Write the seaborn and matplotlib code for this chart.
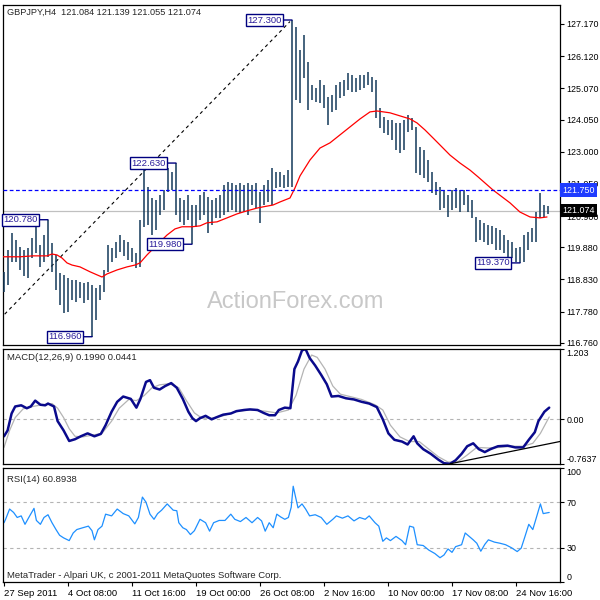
import matplotlib
matplotlib.use("Agg")
import matplotlib.pyplot as plt
import matplotlib.transforms as mtransforms
import seaborn as sns

# GBPJPY H4 (one slot = two H4 bars)
bar_high = [119.08, 119.80, 120.35, 120.12, 119.89, 119.80, 119.86, 120.19, 120.71, 119.96,
            120.28, 120.78, 120.02, 119.63, 119.04, 118.98, 118.88, 118.82, 118.82, 118.75,
            118.72, 118.75, 118.65, 118.55, 118.65, 119.14, 119.96, 119.86, 120.06, 120.28,
            120.12, 120.06, 119.86, 119.70, 120.77, 122.40, 121.85, 121.49, 121.43, 121.59,
            121.75, 122.47, 122.34, 122.63, 121.49, 121.43, 121.59, 121.26, 121.26, 121.59,
            121.69, 121.52, 121.43, 121.49, 121.59, 121.92, 122.01, 121.98, 121.92, 121.98,
            121.92, 121.98, 121.92, 121.98, 121.69, 121.92, 122.08, 122.47, 122.34, 122.34,
            122.24, 122.40, 127.30, 127.07, 126.32, 126.81, 125.93, 125.18, 125.08, 125.34,
            125.18, 124.79, 124.85, 125.18, 125.28, 125.34, 125.57, 125.51, 125.41, 125.51,
            125.51, 125.60, 125.44, 125.34, 124.43, 124.13, 124.04, 124.04, 123.94, 123.94,
            124.04, 124.20, 124.10, 123.81, 123.16, 123.06, 122.73, 122.34, 122.01, 121.85,
            121.75, 121.59, 121.75, 121.82, 121.75, 121.75, 121.59, 121.43, 120.87, 120.77,
            120.68, 120.61, 120.58, 120.51, 120.45, 120.28, 120.12, 120.06, 119.86, 119.89,
            120.28, 120.38, 120.51, 121.03, 121.65, 121.26, 121.23]
bar_low = [118.42, 118.65, 119.40, 119.40, 119.14, 118.95, 118.88, 119.53, 119.70, 119.24,
           119.40, 119.57, 119.08, 118.49, 118.00, 117.74, 117.77, 118.16, 118.10, 118.23,
           118.06, 118.16, 116.96, 117.51, 118.16, 118.42, 119.08, 119.40, 119.53, 119.73,
           119.60, 119.47, 119.40, 119.21, 119.24, 120.55, 120.61, 120.28, 120.45, 120.94,
           121.10, 121.69, 121.75, 120.94, 120.71, 120.61, 120.77, 119.98, 120.55, 120.77,
           120.94, 120.35, 120.61, 120.84, 120.84, 120.94, 121.03, 121.10, 121.03, 121.00,
           121.03, 120.94, 121.26, 121.16, 120.68, 121.26, 121.36, 121.26, 121.82, 121.85,
           121.82, 121.85, 121.85, 124.69, 124.59, 125.41, 124.36, 124.69, 124.62, 124.59,
           124.43, 123.87, 124.30, 124.36, 124.75, 124.82, 125.02, 124.95, 124.95, 125.02,
           125.08, 125.18, 124.95, 124.10, 123.78, 123.61, 123.55, 123.38, 123.06, 122.96,
           123.06, 123.65, 123.71, 122.31, 122.24, 122.14, 122.01, 121.65, 121.59, 121.10,
           121.16, 120.87, 121.10, 121.16, 121.03, 121.26, 121.03, 120.84, 120.06, 120.12,
           120.06, 119.96, 119.99, 119.80, 119.80, 119.70, 119.57, 119.53, 119.40, 119.37,
           119.40, 119.80, 120.06, 120.06, 120.84, 120.87, 120.97]

ma_bar = [-0.25, 4, 7.25, 10.75, 12, 13.25, 14.5, 15.75, 17, 19, 21.5, 23.25, 24.5, 25.75,
          28.25, 30.75, 32.75, 34, 35.75, 38.25, 40.75, 42.75, 44.5, 47, 49, 50.75, 53.25,
          55.75, 58.25, 60.75, 63.25, 64.75, 67.25, 69, 71.5, 72.75, 74, 76.5, 79, 81.5, 84,
          86.5, 89, 91.5, 93.25, 96.5, 99, 101.5, 103.25, 105.25, 107.25, 109, 111.5, 114,
          116.5, 118.5, 122.25, 126.5, 129, 131.5, 134, 135.75]
ma_val = [119.57, 119.57, 119.60, 119.60, 119.66, 119.63, 119.53, 119.37, 119.30, 119.24,
          119.08, 118.98, 118.91, 119.01, 119.14, 119.24, 119.30, 119.37, 119.63, 119.96,
          120.28, 120.48, 120.55, 120.55, 120.58, 120.68, 120.71, 120.84, 120.97, 121.07,
          121.16, 121.20, 121.26, 121.36, 121.49, 121.82, 122.21, 122.73, 123.12, 123.29,
          123.55, 123.81, 124.07, 124.30, 124.33, 124.27, 124.17, 124.07, 123.94, 123.71,
          123.45, 123.22, 122.89, 122.63, 122.40, 122.18, 121.75, 121.33, 121.03, 120.87,
          120.84, 120.87]

trend_bar = [-1, 71.5]
trend_price = [117.54, 127.25]

peak_bar = [11, 22, 43, 47, 72, 129]
peak_price = [120.78, 116.96, 122.63, 119.98, 127.30, 119.37]

price_ticks = [127.17, 126.12, 125.07, 124.05, 123.00, 121.95, 120.90, 119.88, 118.83, 117.78, 116.76]

macd_bar = [0, 0.9, 1.9, 2.8, 4.3, 5.7, 6.7, 7.8, 9.1, 10.3, 11, 12.5, 13.4, 14.9, 16.3, 17.75,
            19.2, 20.9, 22.6, 24.2, 25.4, 26.9, 28.3, 29.8, 31.7, 33.1, 34.1, 35.5, 36.5, 37.5,
            38.9, 40.3, 41.8, 43.2, 44.7, 46.1, 47.1, 48, 49, 50.4, 51.9, 53.3, 54.8, 56.7,
            58.1, 60, 61.5, 63.4, 64.9, 66.3, 67.75, 68.7, 70.2, 71.6, 72.6, 73.5, 74.5, 75.4,
            76.4, 77.8, 79.3, 80.7, 81.9, 83.6, 85.5, 87.5, 89.4, 91.3, 93.2, 94.7, 96.1, 97.6,
            99.5, 100.9, 102.4, 103.3, 104.8, 106.7, 108.6, 110, 111.5, 112.9, 114.4, 115.8,
            117.3, 118.7, 120.2, 121.6, 123.5, 125.9, 127.8, 129.8, 131.2, 132.7, 133.6, 135.1,
            136.3]
macd_val = [-0.29, -0.19, 0.10, 0.22, 0.24, 0.19, 0.22, 0.32, 0.25, 0.24, 0.27, 0.22, -0.03,
            -0.19, -0.37, -0.34, -0.29, -0.24, -0.29, -0.25, -0.10, 0.13, 0.30, 0.39, 0.35,
            0.20, 0.35, 0.64, 0.67, 0.54, 0.51, 0.57, 0.62, 0.54, 0.35, 0.13, 0.02, -0.03,
            0.02, 0.06, 0.00, 0.04, 0.08, 0.10, 0.14, 0.16, 0.17, 0.16, 0.11, 0.07, 0.07,
            0.16, 0.20, 0.19, 0.86, 0.99, 1.18, 1.20, 1.05, 0.92, 0.76, 0.60, 0.39, 0.40,
            0.36, 0.34, 0.30, 0.27, 0.21, 0.00, -0.24, -0.35, -0.38, -0.43, -0.29, -0.41,
            -0.51, -0.59, -0.69, -0.75, -0.76, -0.70, -0.59, -0.46, -0.41, -0.51, -0.56,
            -0.51, -0.46, -0.45, -0.48, -0.48, -0.35, -0.22, -0.03, 0.13, 0.20]

sig_bar = [0, 1.4, 2.8, 4.8, 7.2, 9.6, 12, 13.4, 14.9, 16.3, 17.75, 19.7, 22.1, 24.5, 26.9,
           28.8, 31.2, 33.1, 35.1, 37, 38.9, 41.3, 43.7, 45.6, 47.6, 49.5, 51.9, 54.8, 57.7,
           61.5, 65.3, 68.2, 71.1, 73, 75, 76.9, 78.3, 80.25, 82.2, 84.1, 86.5, 89.4, 92.75,
           94.7, 96.6, 99, 101.4, 103.8, 106.2, 108.6, 111, 113.4, 115.8, 118.2, 121.1, 124,
           126.9, 129.8, 132.2, 134.1, 136.3]
sig_val = [-0.48, -0.19, 0.03, 0.18, 0.22, 0.25, 0.27, 0.19, 0.03, -0.16, -0.29, -0.30,
           -0.27, -0.24, -0.03, 0.19, 0.34, 0.32, 0.41, 0.54, 0.59, 0.61, 0.54, 0.32, 0.11,
           0.02, 0.02, 0.06, 0.13, 0.16, 0.14, 0.11, 0.16, 0.41, 0.86, 1.10, 1.06, 0.86,
           0.57, 0.43, 0.39, 0.34, 0.25, 0.16, -0.10, -0.30, -0.38, -0.38, -0.51, -0.64,
           -0.73, -0.73, -0.61, -0.48, -0.49, -0.48, -0.46, -0.46, -0.41, -0.24, 0.04]

macd_trend_bar = [111.5, 140]
macd_trend_val = [-0.76, -0.365]

rsi_bar = [0, 0.4, 1.4, 2.4, 3.3, 4.3, 5.25, 6.2, 7.5, 8.1, 9.1, 10, 11, 12, 13, 13.9, 14.9,
           16.3, 17.3, 18.2, 19.7, 21.1, 22, 22.6, 23.5, 24.5, 25.4, 26.9, 28.3, 29.8, 31.2,
           32.7, 33.6, 34.6, 35.5, 36.5, 37.5, 38.4, 39.4, 40.8, 42.3, 43.2, 43.7, 44.7, 45.6,
           46.6, 47.6, 49, 50.4, 51.4, 52.4, 53.8, 55.25, 56.7, 57.7, 59.1, 60.5, 62, 63.4,
           64.4, 65.3, 66.3, 67.3, 68.2, 69.2, 70.2, 71.1, 71.8, 72.3, 72.8, 73.5, 74.5, 75.4,
           76.4, 77.8, 79.3, 80.7, 82.2, 83.1, 84.6, 86, 87.5, 88.9, 90.3, 91.3, 92.75, 93.7,
           94.7, 95.6, 96.6, 98, 99.5, 100.4, 101.4, 102.4, 103.3, 104.8, 106.2, 107.7, 109,
           110, 111, 112, 112.9, 114.4, 115.3, 116.3, 117.3, 118.2, 119.2, 120.2, 121.1, 122.6,
           124, 125.4, 126.9, 128.3, 129.3, 130.25, 131.2, 132.2, 133.1, 134.1, 134.8, 136.3]
rsi_val = [52, 55, 64, 61, 56.6, 58, 50.6, 56.6, 64.6, 54, 50.6, 56.6, 59, 52, 46, 41, 38.7,
           36.3, 43, 46, 47.6, 49, 45, 37, 46, 49, 59.5, 58, 64, 60, 58, 51, 56.6, 74.5, 70,
           59.5, 55, 60, 63, 68.5, 63, 62.5, 52, 47.6, 46, 41.6, 45, 55, 52, 44.6, 52, 54, 54,
           59.5, 55, 53, 56.6, 52, 56.6, 53.6, 44.6, 52, 47.6, 59.5, 57, 55, 56.6, 65.5, 84,
           76, 65, 68.5, 64, 58, 59, 56.6, 50.6, 55, 58, 56, 58, 53.6, 56.6, 55, 58, 52, 49,
           35.7, 38.7, 36.3, 40, 36.3, 32.7, 49, 48, 32.7, 32, 28, 25, 21.3, 23.7, 29, 26, 31,
           32.7, 43, 40, 37, 34, 27, 33, 37, 35, 34, 32.7, 30, 26.7, 29.7, 40, 50.6, 46, 56.6,
           68.5, 60, 61]

date_labels = ["27 Sep 2011", "4 Oct 08:00", "11 Oct 16:00", "19 Oct 00:00", "26 Oct 08:00",
               "2 Nov 16:00", "10 Nov 00:00", "17 Nov 08:00", "24 Nov 16:00"]

sns.set_style("white")
plt.rcParams["font.family"] = ["Liberation Sans", "DejaVu Sans"]
FS = 6.8     # chart texts
FS_Y = 6.4   # right axis labels

fig = plt.figure(figsize=(6, 6), dpi=100)


def panel(top, bottom):
    ax = fig.add_axes([3 / 600, 1 - bottom / 600, 557 / 600, (bottom - top) / 600])
    for s in ax.spines.values():
        s.set_color("black")
        s.set_linewidth(0.9)
    ax.set_xlim(-0.25, 139)
    ax.yaxis.tick_right()
    ax.tick_params(axis="y", which="both", right=True, left=False, length=3, width=0.8,
                   pad=1.5, labelsize=FS_Y, colors="black")
    ax.set_xticks([])
    return ax


ax1 = panel(5, 345)
ax2 = panel(349, 464)
ax3 = panel(468, 582)

# price panel
bars = list(range(len(bar_high)))
ax1.vlines(bars, bar_low, bar_high, color="#13395a", linewidth=1.1, zorder=3)
sns.lineplot(x=ma_bar, y=ma_val, ax=ax1, color="#ff0000", linewidth=0.9, zorder=4)
ax1.plot(trend_bar, trend_price, color="black", linewidth=0.8, linestyle=(0, (3, 3)), zorder=2)
ax1.axhline(121.074, color="#c0c0c0", linewidth=0.9, zorder=1)
ax1.axhline(121.75, color="#0000ff", linewidth=0.9, linestyle=(0, (3, 2)), zorder=5)
ax1.set_ylim(116.69, 127.79)
ax1.set_yticks(price_ticks)
ax1.set_yticklabels([f"{v:.3f}" for v in price_ticks])
ax1.text(0.526, 0.1265, "ActionForex.com", transform=ax1.transAxes, fontsize=17,
         color="#c8c8c8", ha="center", va="center", zorder=0)

trans = mtransforms.blended_transform_factory(ax1.transAxes, ax1.transData)
ax1.text(1.004, 121.75, "121.750", transform=trans, ha="left", va="center", color="white",
         fontsize=FS_Y, zorder=8, clip_on=False,
         bbox=dict(boxstyle="square,pad=0.25", fc="#1f3cff", ec="none"))
ax1.text(1.004, 121.074, "121.074", transform=trans, ha="left", va="center", color="white",
         fontsize=FS_Y, zorder=8, clip_on=False,
         bbox=dict(boxstyle="square,pad=0.25", fc="black", ec="none"))

for b, p in zip(peak_bar, peak_price):
    ax1.annotate(f"{p:.3f}", xy=(b, p), xytext=(-10, 0), textcoords="offset pixels",
                 ha="right", va="center", fontsize=FS, color="#2b1d9a", zorder=7,
                 bbox=dict(boxstyle="square,pad=0.15", fc="white", ec="#000080", lw=1),
                 arrowprops=dict(arrowstyle="-", color="#000080", lw=1, shrinkA=0, shrinkB=0))

# MACD panel
ax2.axhline(0, color="#b4b4b4", linewidth=0.8, linestyle=(0, (3, 3)))
sns.lineplot(x=sig_bar, y=sig_val, ax=ax2, color="#b4b4b4", linewidth=0.9)
sns.lineplot(x=macd_bar, y=macd_val, ax=ax2, color="#0a0a8c", linewidth=1.8)
ax2.plot(macd_trend_bar, macd_trend_val, color="black", linewidth=0.9)
ax2.set_xlim(-0.25, 139)
ax2.set_ylim(-0.7637, 1.203)
ax2.set_yticks([1.203, 0, -0.7637])
ax2.set_yticklabels(["1.203", "0.00", "-0.7637"])
lbls = ax2.get_yticklabels()
lbls[0].set_va("top")
lbls[-1].set_va("bottom")

# RSI panel
for lvl in (70, 30):
    ax3.axhline(lvl, color="#b4b4b4", linewidth=0.8, linestyle=(0, (3, 3)))
sns.lineplot(x=rsi_bar, y=rsi_val, ax=ax3, color="#1e90ff", linewidth=0.9)
ax3.set_xlim(-0.25, 139)
ax3.set_ylim(0, 100)
ax3.set_yticks([100, 70, 30, 0])
ax3.set_yticklabels(["100", "70", "30", "0"])
lbls = ax3.get_yticklabels()
lbls[0].set_va("top")
lbls[-1].set_va("bottom")
ax3.set_xticks([16 * k for k in range(len(date_labels))])
ax3.set_xticklabels(date_labels)
ax3.tick_params(axis="x", bottom=True, length=3, width=0.8, pad=2, labelsize=FS, colors="black")
for t in ax3.get_xticklabels():
    t.set_ha("left")

for ax in (ax1, ax2, ax3):
    ax.set_xlabel("")
    ax.set_ylabel("")
    if ax.get_legend():
        ax.get_legend().remove()

fig.text(7 / 600, 1 - 12 / 600, "GBPJPY,H4  121.084 121.139 121.055 121.074",
         fontsize=6.6, ha="left", va="center")
fig.text(7 / 600, 1 - 357 / 600, "MACD(12,26,9) 0.1990 0.0441", fontsize=FS, ha="left", va="center")
fig.text(7 / 600, 1 - 479 / 600, "RSI(14) 60.8938", fontsize=FS, ha="left", va="center")
fig.text(7 / 600, 1 - 575 / 600, "MetaTrader - Alpari UK, c 2001-2011 MetaQuotes Software Corp.",
         fontsize=FS, ha="left", va="center")

fig.savefig("out.png", dpi=100)
